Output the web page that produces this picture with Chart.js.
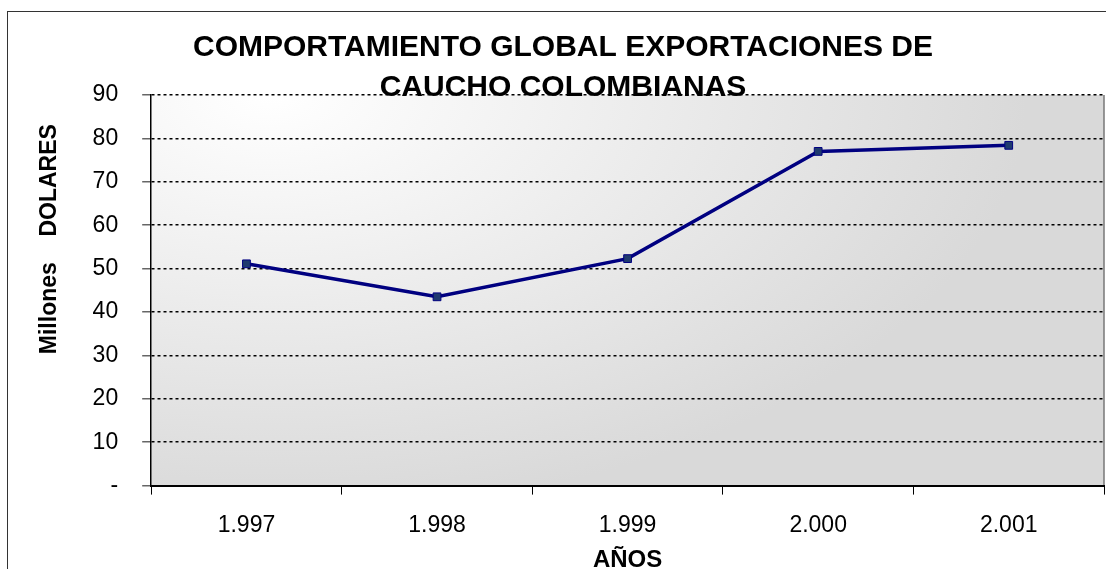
<!DOCTYPE html>
<html>
<head>
<meta charset="utf-8">
<script src="https://cdn.jsdelivr.net/npm/chart.js@4.4.0/dist/chart.umd.min.js"></script>
<style>
  html, body { margin: 0; padding: 0; background: #fff; overflow: hidden; }
  #frame { position: absolute; left: 7px; top: 11px; width: 1200px; height: 700px; border: 1.5px solid #333; }
  #chart { position: absolute; left: 8px; top: 12px; }
</style>
</head>
<body>
<div id="frame"></div>
<canvas id="chart" width="1112" height="570"></canvas>
<script>
const titleLines = ["COMPORTAMIENTO GLOBAL EXPORTACIONES DE", "CAUCHO COLOMBIANAS"];
const years = ["1.997", "1.998", "1.999", "2.000", "2.001"];
const exportValues = [51.1, 43.5, 52.3, 77.0, 78.4];
const yTickValues = [0, 10, 20, 30, 40, 50, 60, 70, 80, 90];

// gray "from corner" fill behind the plot
const plotBackground = {
  id: "plotBackground",
  beforeDraw(chart) {
    const { ctx, chartArea: a } = chart;
    ctx.save();
    ctx.beginPath();
    ctx.rect(a.left, a.top, a.width, a.height);
    ctx.clip();
    ctx.translate(a.left + 120, a.top);
    ctx.scale(1.8, 1);
    const g = ctx.createRadialGradient(0, 0, 0, 0, 0, 420);
    g.addColorStop(0, "#ffffff");
    g.addColorStop(1, "#d9d9d9");
    ctx.fillStyle = g;
    ctx.fillRect(-500, -50, 1000, 600);
    ctx.restore();

    ctx.save();
    ctx.strokeStyle = "#777";
    ctx.lineWidth = 1.5;
    ctx.beginPath();
    ctx.moveTo(a.right, a.top);
    ctx.lineTo(a.right, a.bottom);
    ctx.stroke();
    ctx.restore();
  },
};

const config = {
  type: "line",
  data: {
    labels: years,
    datasets: [
      {
        label: "Exportaciones",
        data: exportValues,
        borderColor: "#000080",
        borderWidth: 3.5,
        tension: 0,
        pointStyle: "rect",
        pointRadius: 5.5,
        pointBackgroundColor: "#1f3a6e",
        pointBorderColor: "#000080",
        pointBorderWidth: 1,
      },
    ],
  },
  options: {
    responsive: false,
    animation: false,
    layout: { padding: { left: 14, right: 16, top: 0, bottom: 0 } },
    plugins: {
      legend: { display: false },
      tooltip: { enabled: false },
      title: {
        display: true,
        text: titleLines,
        color: "#000",
        font: { family: "Arial", size: 30, weight: "bold", lineHeight: 1.35 },
        padding: { top: 15, bottom: -13 },
      },
    },
    scales: {
      x: {
        offset: true,
        grid: {
          offset: true,
          drawOnChartArea: false,
          tickLength: 9,
          color: "#000",
          lineWidth: 1,
        },
        border: { color: "#000", width: 2 },
        ticks: {
          color: "#000",
          font: { family: "Arial", size: 23 },
          padding: 17,
          maxRotation: 0,
        },
        title: {
          display: true,
          text: "AÑOS",
          color: "#000",
          font: { family: "Arial", size: 24, weight: "bold" },
          padding: { top: -10, bottom: 7 },
        },
      },
      y: {
        min: 0,
        max: 90,
        afterBuildTicks: (axis) => {
          axis.ticks = yTickValues.map((v) => ({ value: v }));
        },
        grid: {
          color: "#000",
          lineWidth: 1.5,
          tickLength: 9,
          tickColor: "#666",
          tickWidth: 1.5,
          tickBorderDash: [],
        },
        border: { color: "#000", width: 1.5, dash: [3, 3] },
        ticks: {
          color: "#000",
          font: { family: "Arial", size: 23 },
          padding: 24,
          callback: (v) => (v === 0 ? "-" : v),
        },
        title: {
          display: true,
          text: " ".repeat(16) + "Millones    DOLARES",
          color: "#000",
          font: { family: "Arial", size: 23, weight: "bold" },
          padding: { top: 14, bottom: 5 },
        },
      },
    },
  },
  plugins: [plotBackground],
};

const exportChart = new Chart(document.getElementById("chart"), config);
</script>
</body>
</html>
